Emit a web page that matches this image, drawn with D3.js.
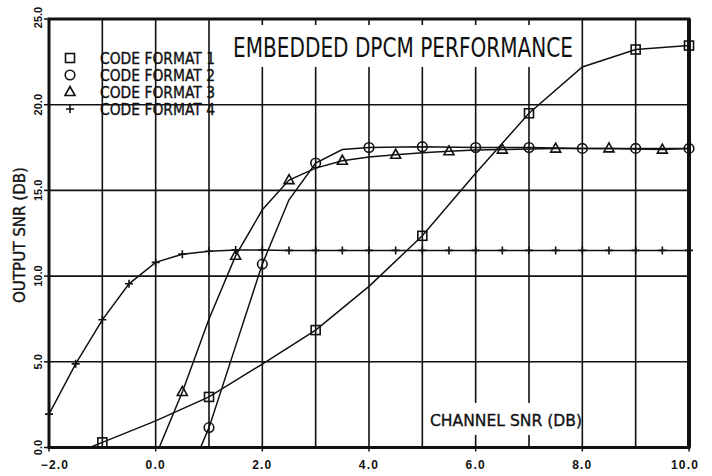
<!DOCTYPE html>
<html>
<head>
<meta charset="utf-8">
<script src="https://cdn.jsdelivr.net/npm/d3@7/dist/d3.min.js"></script>
<style>
html,body{margin:0;padding:0;background:#fff;}
svg{display:block;}
</style>
</head>
<body>
<svg id="chart" width="712" height="476"></svg>
<script>
// ---- data ----
const xDomain = [-2, 10];
const yDomain = [0, 25];
const xTickLabels = [-2, 0, 2, 4, 6, 8, 10];
const xGrid = [-1, 0, 1, 2, 3, 4, 5, 6, 7, 8, 9];
const yTickLabels = [0, 5, 10, 15, 20, 25];
const yGrid = [5, 10, 15, 20];

const title = "EMBEDDED DPCM PERFORMANCE";
const xTitle = "CHANNEL SNR (DB)";
const yTitle = "OUTPUT SNR (DB)";
const seriesNames = ["CODE FORMAT 1", "CODE FORMAT 2", "CODE FORMAT 3", "CODE FORMAT 4"];
const seriesSymbols = ["square", "circle", "triangle", "plus"];

// Code format 1 (squares)
const fmt1X = [-2, -1, 0, 1, 2, 3, 4, 5, 6, 7, 8, 9, 10];
const fmt1Y = [-0.95, 0.3, 1.55, 2.95, 4.87, 6.85, 9.4, 12.35, 16.0, 19.5, 22.2, 23.22, 23.45];
const fmt1Marked = [-1, 1, 3, 5, 7, 9, 10];

// Code format 2 (circles)
const fmt2X = [0.5, 1, 1.5, 2, 2.5, 3, 3.5, 4, 5, 6, 7, 8, 9, 10];
const fmt2Y = [-2.5, 1.16, 5.93, 10.7, 14.45, 16.6, 17.38, 17.5, 17.55, 17.5, 17.5, 17.45, 17.45, 17.45];
const fmt2Marked = [1, 2, 3, 4, 5, 6, 7, 8, 9, 10];

// Code format 3 (triangles)
const fmt3X = [0, 0.5, 1, 1.5, 2, 2.5, 3, 3.5, 4, 4.5, 5, 5.5, 6, 6.5, 7, 7.5, 8, 8.5, 9, 9.5, 10];
const fmt3Y = [-0.5, 3.24, 7.5, 11.19, 13.87, 15.6, 16.3, 16.73, 16.95, 17.08, 17.2, 17.28, 17.35, 17.38, 17.42, 17.44, 17.45, 17.45, 17.42, 17.38, 17.45];
const fmt3Marked = [0.5, 1.5, 2.5, 3.5, 4.5, 5.5, 6.5, 7.5, 8.5, 9.5];

// Code format 4 (plus)
const fmt4X = [-2, -1.5, -1, -0.5, 0, 0.5, 1, 1.5, 2, 2.5, 3, 3.5, 4, 4.5, 5, 5.5, 6, 6.5, 7, 7.5, 8, 8.5, 9, 9.5, 10];
const fmt4Y = [1.95, 4.88, 7.45, 9.55, 10.8, 11.28, 11.45, 11.52, 11.52, 11.5, 11.5, 11.5, 11.5, 11.5, 11.5, 11.5, 11.5, 11.5, 11.5, 11.5, 11.5, 11.5, 11.5, 11.5, 11.5];
const fmt4Marked = fmt4X.slice();

// ---- drawing ----
const svg = d3.select("#chart");
const L = 49, R = 689, T = 19, B = 447.5;
const x = d3.scaleLinear().domain(xDomain).range([L, R]);
const y = d3.scaleLinear().domain(yDomain).range([B, T]);
const ink = "#111";

svg.append("defs").append("clipPath").attr("id", "plotclip")
  .append("rect").attr("x", L).attr("y", T).attr("width", R - L).attr("height", B - T);

// grid
const grid = svg.append("g").attr("stroke", ink).attr("stroke-width", 1.6);
grid.selectAll("line.v").data(xGrid).join("line")
  .attr("x1", d => x(d)).attr("x2", d => x(d)).attr("y1", T).attr("y2", B);
grid.selectAll("line.h").data(yGrid).join("line")
  .attr("x1", L).attr("x2", R).attr("y1", d => y(d)).attr("y2", d => y(d));

// outside ticks
const ticks = svg.append("g").attr("stroke", ink).attr("stroke-width", 1.5);
ticks.selectAll("line.yt").data(yTickLabels).join("line")
  .attr("x1", L - 5).attr("x2", L).attr("y1", d => y(d)).attr("y2", d => y(d));
ticks.selectAll("line.xt").data(xTickLabels).join("line")
  .attr("x1", d => x(d)).attr("x2", d => x(d)).attr("y1", B).attr("y2", B + 4);

// white boxes behind title and x-axis title
svg.append("rect").attr("x", 225).attr("y", 25).attr("width", 353).attr("height", 42).attr("fill", "#fff");
svg.append("rect").attr("x", 425).attr("y", 403).attr("width", 153).attr("height", 32).attr("fill", "#fff");

// frame
svg.append("rect").attr("x", L).attr("y", T).attr("width", R - L).attr("height", B - T)
  .attr("fill", "none").attr("stroke", ink).attr("stroke-width", 3);
svg.append("line").attr("x1", R).attr("x2", R).attr("y1", T).attr("y2", B)
  .attr("stroke", ink).attr("stroke-width", 4);

const textStroke = 0.35;

// title
svg.append("text").attr("x", 233).attr("y", 57).text(title)
  .attr("font-family", "DejaVu Sans").attr("font-size", 26)
  .attr("textLength", 340).attr("lengthAdjust", "spacingAndGlyphs").attr("fill", ink);

// x title
svg.append("text").attr("x", 430).attr("y", 426).text(xTitle)
  .attr("font-family", "DejaVu Sans").attr("font-size", 16)
  .attr("textLength", 152).attr("lengthAdjust", "spacingAndGlyphs").attr("fill", ink)
  .attr("stroke", ink).attr("stroke-width", textStroke);

// y title
svg.append("text").attr("transform", "translate(25,235) rotate(-90)")
  .attr("text-anchor", "middle").text(yTitle)
  .attr("font-family", "DejaVu Sans").attr("font-size", 16)
  .attr("textLength", 136).attr("lengthAdjust", "spacingAndGlyphs").attr("fill", ink)
  .attr("stroke", ink).attr("stroke-width", textStroke);

// x tick labels
svg.append("g").selectAll("text").data(xTickLabels).join("text")
  .attr("x", d => x(d) + (d < 0 ? 6 : (d >= 10 ? -4 : 0)))
  .attr("y", 469).attr("text-anchor", "middle")
  .attr("font-family", "Liberation Sans").attr("font-weight", "bold")
  .attr("font-size", 12).attr("letter-spacing", 1.2).attr("fill", ink)
  .text(d => d3.format(".1f")(d));

// y tick labels (rotated)
svg.append("g").selectAll("text").data(yTickLabels).join("text")
  .attr("transform", d => `translate(42,${y(d) + (d === 25 ? -1.5 : 0)}) rotate(-90)`)
  .attr("text-anchor", "middle")
  .attr("font-family", "Liberation Sans").attr("font-weight", "bold")
  .attr("font-size", 11).attr("fill", ink)
  .text(d => d3.format(".1f")(d));

// series
const series = [
  {xs: fmt1X, ys: fmt1Y, marked: fmt1Marked, sym: seriesSymbols[0]},
  {xs: fmt2X, ys: fmt2Y, marked: fmt2Marked, sym: seriesSymbols[1]},
  {xs: fmt3X, ys: fmt3Y, marked: fmt3Marked, sym: seriesSymbols[2]},
  {xs: fmt4X, ys: fmt4Y, marked: fmt4Marked, sym: seriesSymbols[3]}
];
const line = d3.line().x(d => x(d[0])).y(d => y(d[1]));

function drawSymbol(g, sym, cx, cy) {
  const s = g.append("g").attr("transform", `translate(${cx},${cy})`)
    .attr("fill", "none").attr("stroke", ink).attr("stroke-width", 1.6);
  if (sym === "square") {
    s.append("rect").attr("x", -4.5).attr("y", -4.5).attr("width", 9).attr("height", 9);
  } else if (sym === "circle") {
    s.append("circle").attr("r", 4.8);
  } else if (sym === "triangle") {
    s.append("path").attr("d", "M0,-5.5L5,3.5L-5,3.5Z");
  } else {
    s.append("path").attr("d", "M-4,0H4M0,-4V4");
  }
}

const plot = svg.append("g");
series.forEach(s => {
  const pts = s.xs.map((v, i) => [v, s.ys[i]]);
  plot.append("path").attr("d", line(pts)).attr("clip-path", "url(#plotclip)")
    .attr("fill", "none").attr("stroke", ink).attr("stroke-width", 1.5);
  s.marked.forEach(mx => {
    const i = s.xs.indexOf(mx);
    drawSymbol(plot, s.sym, x(mx), y(s.ys[i]));
  });
});

// legend
const legRows = [58, 75, 92, 109];
seriesNames.forEach((name, i) => {
  drawSymbol(svg, seriesSymbols[i], 70, legRows[i]);
  svg.append("text").attr("x", 100).attr("y", legRows[i] + 5.5).text(name)
    .attr("font-family", "DejaVu Sans").attr("font-size", 15)
    .attr("textLength", 115).attr("lengthAdjust", "spacingAndGlyphs").attr("fill", ink)
    .attr("stroke", ink).attr("stroke-width", textStroke);
});
</script>
</body>
</html>
